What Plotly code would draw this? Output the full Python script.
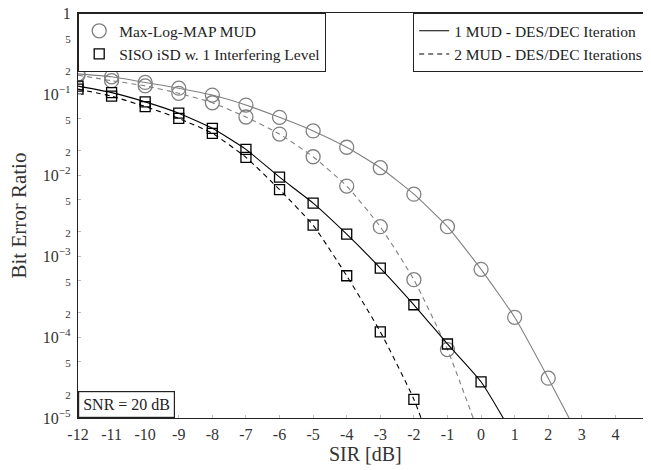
import plotly.graph_objects as go

# ---- data ----
sir_map1 = [-12, -11, -10, -9, -8, -7, -6, -5, -4, -3, -2, -1, 0, 1, 2, 3]
ber_map1 = [0.177, 0.163, 0.139, 0.118, 0.097, 0.073, 0.0515, 0.035, 0.022, 0.0123,
            0.0058, 0.0023, 6.85e-4, 1.75e-4, 3.1e-5, 5.0e-6]

sir_map2 = [-12, -11, -10, -9, -8, -7, -6, -5, -4, -3, -2, -1, 0]
ber_map2 = [0.171, 0.146, 0.126, 0.102, 0.078, 0.052, 0.032, 0.0168, 0.0073, 0.0023,
            5.1e-4, 7.0e-5, 5.4e-6]

sir_isd1 = [-12, -11, -10, -9, -8, -7, -6, -5, -4, -3, -2, -1, 0, 1]
ber_isd1 = [0.125, 0.104, 0.080, 0.058, 0.0377, 0.0207, 0.0094, 0.0045, 0.00186, 7.1e-4,
            2.5e-4, 8.2e-5, 2.8e-5, 5.7e-6]

sir_isd2 = [-12, -11, -10, -9, -8, -7, -6, -5, -4, -3, -2, -1]
ber_isd2 = [0.115, 0.094, 0.070, 0.050, 0.0327, 0.0165, 0.0066, 0.0024, 5.7e-4, 1.16e-4,
            1.7e-5, 1.2e-6]

x_ticks = list(range(-12, 6))
y_tickvals = [1, 0.5, 0.2, 0.1, 0.05, 0.02, 0.01, 0.005, 0.002, 0.001, 5e-4, 2e-4,
              1e-4, 5e-5, 2e-5, 1e-5]
y_major_text = {1: "1", 0.1: "10<sup>−1</sup>", 0.01: "10<sup>−2</sup>",
                0.001: "10<sup>−3</sup>", 1e-4: "10<sup>−4</sup>", 1e-5: "10<sup>−5</sup>"}

legend_markers = ["Max-Log-MAP MUD", "SISO iSD w. 1 Interfering Level"]
legend_lines = ["1 MUD - DES/DEC Iteration", "2 MUD - DES/DEC Iterations"]
snr_text = "SNR = 20 dB"
x_title = "SIR [dB]"
y_title = "Bit Error Ratio"

GRAY = "#808080"
FONT = "Liberation Serif"

def ytext(v):
    if v in y_major_text:
        return y_major_text[v]
    d = f"{v:.0e}"[0]
    return f"<span style='font-size:11px'>{d}</span>"

fig = go.Figure()

def add_series(x, y, color, symbol, size, dash):
    fig.add_trace(go.Scatter(
        x=x, y=y, mode="lines+markers",
        line=dict(color=color, width=1.1, dash=dash, shape="spline", smoothing=0.5),
        marker=dict(symbol=symbol, size=size, color=color,
                    line=dict(color=color, width=1.3)),
        showlegend=False, cliponaxis=True))

add_series(sir_map1, ber_map1, GRAY, "circle-open", 14, "solid")
add_series(sir_map2, ber_map2, GRAY, "circle-open", 14, "5px,4px")
add_series(sir_isd1, ber_isd1, "black", "square-open", 10, "solid")
add_series(sir_isd2, ber_isd2, "black", "square-open", 10, "5px,4px")

# legend entries
fig.add_trace(go.Scatter(x=[None], y=[None], mode="markers", name=legend_markers[0],
                         marker=dict(symbol="circle-open", size=14, color=GRAY,
                                     line=dict(color=GRAY, width=1.3)), legend="legend"))
fig.add_trace(go.Scatter(x=[None], y=[None], mode="markers", name=legend_markers[1],
                         marker=dict(symbol="square-open", size=10, color="black",
                                     line=dict(color="black", width=1.3)), legend="legend"))
fig.add_trace(go.Scatter(x=[None], y=[None], mode="lines", name=legend_lines[0],
                         line=dict(color="black", width=1.1), legend="legend2"))
fig.add_trace(go.Scatter(x=[None], y=[None], mode="lines", name=legend_lines[1],
                         line=dict(color="black", width=1.1, dash="5px,4px"), legend="legend2"))

fig.add_annotation(text=snr_text, xref="paper", yref="paper", x=0, y=0,
                   xanchor="left", yanchor="bottom", showarrow=False,
                   font=dict(family=FONT, size=16, color="#222"),
                   bordercolor="#222", borderwidth=1.2, borderpad=4, bgcolor="white")

fig.add_annotation(text=y_title, xref="paper", yref="paper", x=-0.105, y=0.5,
                   xanchor="center", yanchor="middle", textangle=-90, showarrow=False,
                   font=dict(family=FONT, size=21, color="#333"))
fig.add_annotation(text=x_title, xref="paper", yref="paper", x=0.503, y=-0.089,
                   xanchor="center", yanchor="middle", showarrow=False,
                   font=dict(family=FONT, size=20, color="#333"))

leg_common = dict(bordercolor="#222", borderwidth=1.2, bgcolor="white",
                  font=dict(family=FONT, size=15.5, color="#222"),
                  tracegroupgap=0, itemsizing="trace")

fig.update_layout(
    width=651, height=470,
    margin=dict(l=70, r=10, t=5, b=60, autoexpand=False),
    paper_bgcolor="white", plot_bgcolor="white",
    font=dict(family=FONT, color="#222"),
    legend=dict(x=0, y=1, xanchor="left", yanchor="top", **leg_common),
    legend2=dict(x=1, y=1, xanchor="right", yanchor="top", **leg_common),
    xaxis=dict(range=[-12, 5], tickvals=x_ticks, ticktext=[str(v) for v in x_ticks],
               automargin=False, ticklabeloverflow="allow", ticklabelstandoff=2,
               showgrid=False, zeroline=False, showline=True, linecolor="#222",
               linewidth=1.2, mirror=True, ticks="inside", ticklen=3, tickcolor="#bbb",
               tickfont=dict(family=FONT, size=16, color="#333")),
    yaxis=dict(type="log", range=[-5, 0], tickvals=y_tickvals,
               ticktext=[ytext(v) for v in y_tickvals],
               automargin=False, ticklabeloverflow="allow", ticklabelstandoff=3,
               showgrid=False, zeroline=False, showline=True, linecolor="#222",
               linewidth=1.2, mirror=True, ticks="inside", ticklen=3, tickcolor="#bbb",
               tickfont=dict(family=FONT, size=16, color="#333")),
)

fig.write_html("out.html")
